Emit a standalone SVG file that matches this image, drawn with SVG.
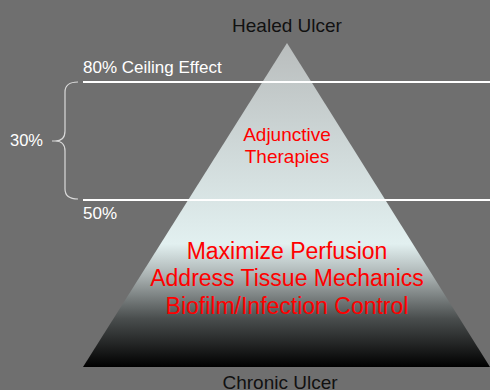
<svg xmlns="http://www.w3.org/2000/svg" width="490" height="390" viewBox="0 0 490 390">
<style>
.t{font-family:"Liberation Sans",Arial,sans-serif}
.red{fill:#ff0000;text-anchor:middle}
.wh{fill:#ffffff}
.bk{fill:#111111;text-anchor:middle;font-size:19px}
</style>
<defs>
<linearGradient id="g" x1="0" y1="43" x2="0" y2="367" gradientUnits="userSpaceOnUse">
<stop offset="0" stop-color="#b9bdbd"/>
<stop offset="0.3" stop-color="#cdd6d6"/>
<stop offset="0.62" stop-color="#e2f0f0"/>
<stop offset="0.72" stop-color="#a9b1b1"/>
<stop offset="0.85" stop-color="#4a4e4e"/>
<stop offset="1" stop-color="#000000"/>
</linearGradient>
</defs>
<rect width="490" height="390" fill="#6f6f6f"/>
<g id="pyramid">
<polygon points="287,43 490,367 83,367" fill="url(#g)"/>
</g>
<g id="connectors">
<line x1="83" y1="82" x2="490" y2="82" stroke="#ffffff" stroke-width="2.2"/>
<line x1="83" y1="200" x2="490" y2="200" stroke="#ffffff" stroke-width="2.2"/>
<path d="M78,82 Q65,82 65,92 L65,131 Q65,141 55,141 L52,141 M55,141 Q65,141 65,151 L65,189 Q65,199 78,199" fill="none" stroke="#d9d9d9" stroke-width="1.2"/>
</g>
<g id="top-label"><text class="t bk" x="287" y="32">Healed Ulcer</text></g>
<g id="ceiling"><text class="t wh" x="83" y="73" font-size="17">80% Ceiling Effect</text></g>
<g id="fifty"><text class="t wh" x="83" y="219" font-size="17">50%</text></g>
<g id="thirty"><text class="t wh" x="10" y="146" font-size="16.5">30%</text></g>
<g id="adjunctive">
<text class="t red" x="287" y="141" font-size="19">Adjunctive</text>
<text class="t red" x="287" y="163" font-size="19">Therapies</text>
</g>
<g id="base-therapies">
<text class="t red" x="287" y="259" font-size="23">Maximize Perfusion</text>
<text class="t red" x="287" y="286" font-size="23">Address Tissue Mechanics</text>
<text class="t red" x="287" y="314" font-size="23">Biofilm/Infection Control</text>
</g>
<g id="bottom-label"><text class="t bk" x="280" y="389">Chronic Ulcer</text></g>
</svg>
